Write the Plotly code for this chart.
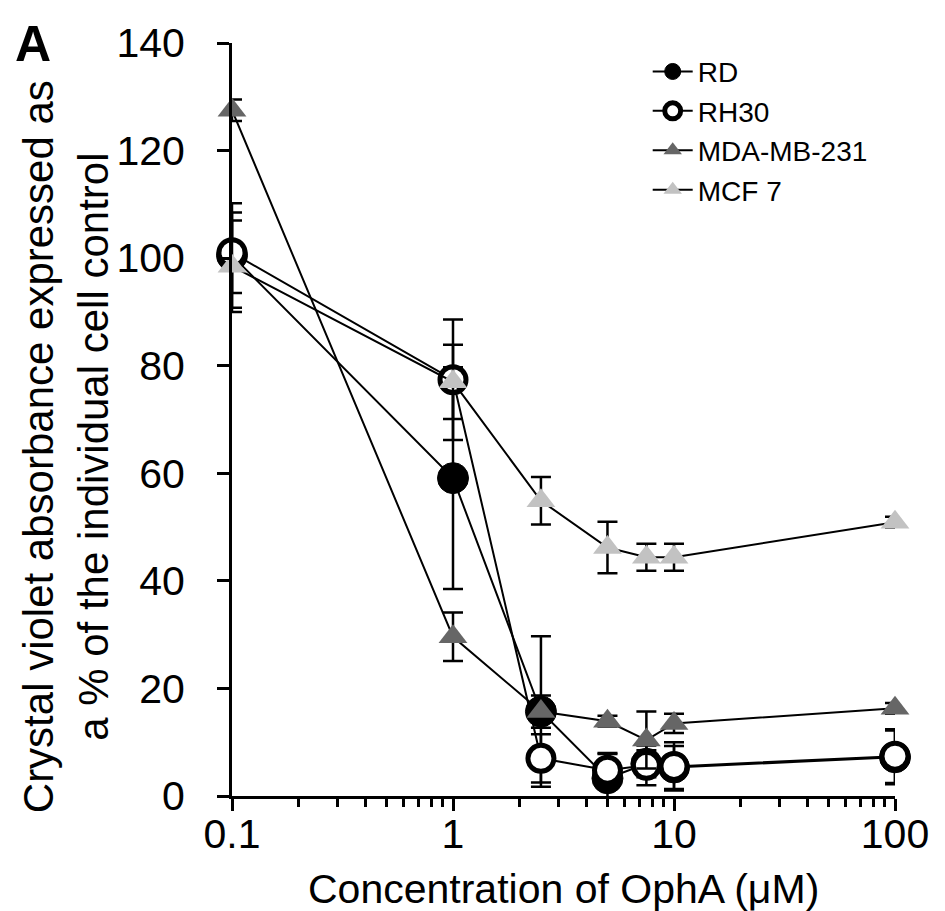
import plotly.graph_objects as go

# --- Data ---
conc = [0.1, 1, 2.5, 5, 7.5, 10, 100]

rd = [100.5, 59.1, 15.7, 3.3, 6.0, 5.3, 7.2]
rd_err = [9.7, 20.6, 14.0, 4.5, 2.5, 4.0, 5.0]

rh30 = [101.0, 77.4, 7.0, 4.8, 5.7, 5.5, 7.4]
rh30_err = [7.5, 11.2, 4.5, 3.2, 3.7, 4.5, 5.0]

mda = [127.5, 29.6, 15.7, 13.9, 10.4, 13.5, 16.3]
mda_err = [2.0, 4.5, 3.0, 1.0, 5.3, 1.8, 1.0]

mcf7 = [98.5, 77.0, 54.9, 46.2, 44.4, 44.4, 50.9]
mcf7_err = [8.5, 6.9, 4.4, 4.8, 2.5, 2.5, 1.0]

xticks = [0.1, 1, 10, 100]
xtick_text = ["0.1", "1", "10", "100"]
xminor = [0.2, 0.3, 0.4, 0.5, 0.6, 0.7, 0.8, 0.9,
          2, 3, 4, 5, 6, 7, 8, 9,
          20, 30, 40, 50, 60, 70, 80, 90]
yticks = [0, 20, 40, 60, 80, 100, 120, 140]

FONT = "Liberation Sans, Arial, sans-serif"

series = [
    ("RD", rd, rd_err, dict(symbol="circle", size=31, color="black",
                            line=dict(color="black", width=1))),
    ("RH30", rh30, rh30_err, dict(symbol="circle", size=26, color="white",
                                  line=dict(color="black", width=5))),
    ("MDA-MB-231", mda, mda_err, dict(symbol="triangle-up", size=25, color="#666666",
                                      line=dict(color="#666666", width=0))),
    ("MCF 7", mcf7, mcf7_err, dict(symbol="triangle-up", size=25, color="#c2c2c2",
                                   line=dict(color="#c2c2c2", width=0))),
]

fig = go.Figure()

for name, vals, errs, marker in series:
    fig.add_trace(
        go.Scatter(
            x=conc,
            y=vals,
            mode="lines+markers",
            name=name,
            line=dict(color="black", width=2),
            marker=marker,
            error_y=dict(type="data", array=errs, visible=True,
                         color="black", thickness=2.5, width=10),
            cliponaxis=False,
        )
    )

fig.update_layout(
    width=945,
    height=911,
    margin=dict(l=224, r=58, t=32, b=123),
    plot_bgcolor="white",
    paper_bgcolor="white",
    font=dict(family=FONT, color="black", size=41),
    showlegend=True,
    legend=dict(
        x=0.627, y=0.995, xanchor="left", yanchor="top",
        font=dict(size=28, color="black"),
        bgcolor="rgba(0,0,0,0)",
        itemwidth=40,
        tracegroupgap=0,
    ),
)

fig.update_xaxes(
    type="log",
    range=[-1, 2],
    showline=True, linewidth=3, linecolor="black",
    showgrid=False, zeroline=False,
    tickmode="array", tickvals=xticks, ticktext=xtick_text,
    ticks="outside", ticklen=12, tickwidth=3, tickcolor="black",
    ticklabelstandoff=-12,
    tickfont=dict(size=41),
    minor=dict(tickmode="array", tickvals=xminor, ticks="outside",
               ticklen=8, tickwidth=3, tickcolor="black", showgrid=False),
)

fig.update_yaxes(
    range=[0, 140],
    showline=True, linewidth=3, linecolor="black",
    showgrid=False, zeroline=False,
    tickmode="array", tickvals=yticks,
    ticks="outside", ticklen=12, tickwidth=3, tickcolor="black",
    ticklabelstandoff=24,
    tickfont=dict(size=41),
)

# axis titles and panel letter
fig.add_annotation(
    text="Concentration of OphA (μM)",
    xref="paper", yref="paper", x=0.5, y=-0.124,
    xanchor="center", yanchor="middle", showarrow=False,
    font=dict(size=41),
)
fig.add_annotation(
    text="Crystal violet absorbance expressed as<br>a % of the individual cell control",
    xref="paper", yref="paper", x=-0.251, y=0.464,
    xanchor="center", yanchor="middle", showarrow=False,
    textangle=-90, font=dict(size=42),
)
fig.add_annotation(
    text="<b>A</b>",
    xref="paper", yref="paper", x=-0.300, y=1.038,
    xanchor="center", yanchor="top", showarrow=False,
    font=dict(size=50),
)

fig.write_html("out.html")
